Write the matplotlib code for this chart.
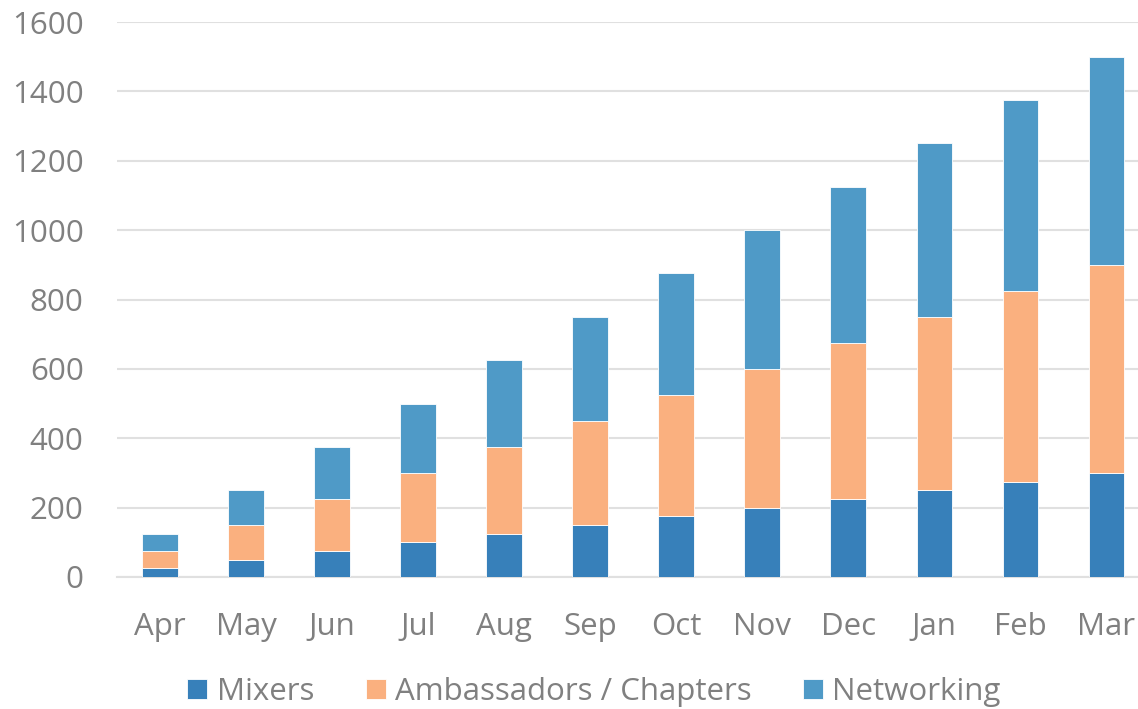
import matplotlib
matplotlib.use("Agg")
import matplotlib.pyplot as plt
import numpy as np

months = ["Apr", "May", "Jun", "Jul", "Aug", "Sep", "Oct", "Nov", "Dec", "Jan", "Feb", "Mar"]
mixers = [25, 50, 75, 100, 125, 150, 175, 200, 225, 250, 275, 300]
ambassadors = [50, 100, 150, 200, 250, 300, 350, 400, 450, 500, 550, 600]
networking = [50, 100, 150, 200, 250, 300, 350, 400, 450, 500, 550, 600]
series_names = ["Mixers", "Ambassadors / Chapters", "Networking"]
colors = ["#3780BA", "#FAB07F", "#4F9AC7"]

plt.rcParams['font.family'] = ['Open Sans', 'DejaVu Sans']
fig = plt.figure(figsize=(11.38, 7.09), dpi=100)
ax = fig.add_axes([117/1138, 132/709, (1138-117)/1138, 555/709])

x = np.arange(len(months))
w = 0.41
bottom = np.zeros(len(months))
for vals, name, c in zip([mixers, ambassadors, networking], series_names, colors):
    ax.bar(x, vals, w, bottom=bottom, color=c, label=name, edgecolor="#ffffff", linewidth=0.6, zorder=3)
    bottom += np.array(vals)

ax.set_ylim(0, 1600)
ax.set_xlim(-0.5, 11.37)
ax.set_yticks(range(0, 1601, 200))
ax.set_xticks(x)
ax.set_xticklabels(months)
ax.yaxis.grid(True, color="#e0e0e0", linewidth=1.5, zorder=0)
for s in ["top", "right", "left"]:
    ax.spines[s].set_visible(False)
ax.spines["bottom"].set_color("#e0e0e0")
ax.spines["bottom"].set_linewidth(1.5)
ax.tick_params(axis="both", length=0, labelsize=22.5, labelcolor="#808080")
ax.tick_params(axis="x", pad=25)
ax.tick_params(axis="y", pad=24)

leg = fig.legend(loc="center", bbox_to_anchor=(594/1138, 1 - 692/709), ncol=3, frameon=False,
                 fontsize=22.5, handlelength=0.64, handleheight=0.64, handletextpad=0.3,
                 columnspacing=1.65)
for t in leg.get_texts():
    t.set_color("#808080")

fig.savefig("out.png", dpi=100)
